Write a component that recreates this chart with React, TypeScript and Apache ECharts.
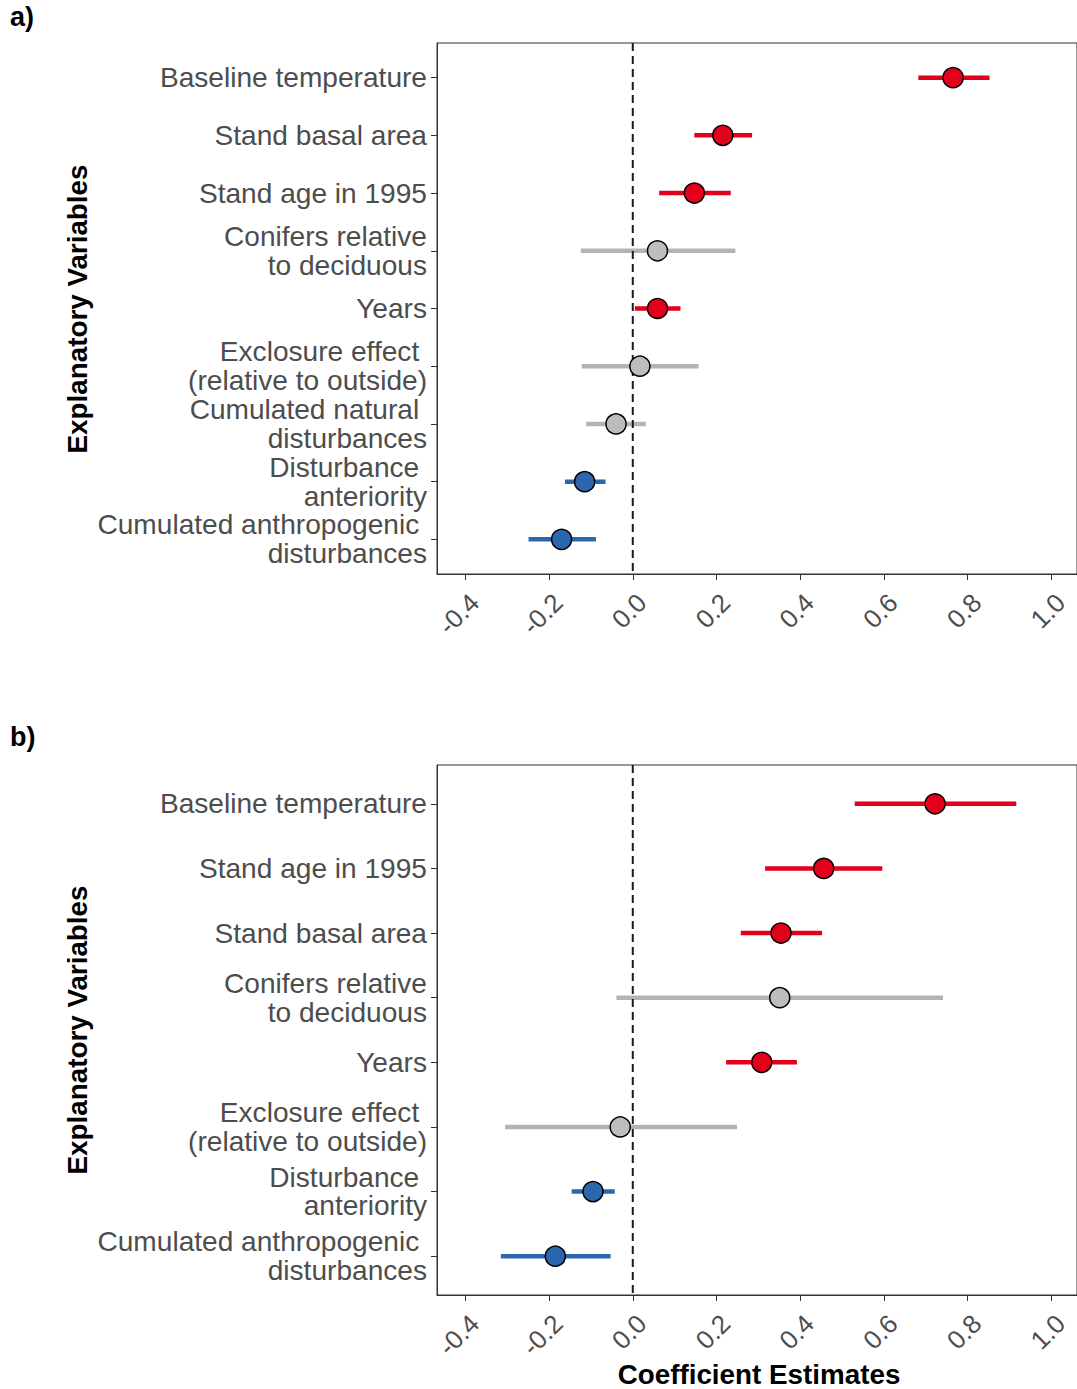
import React, { useEffect, useRef } from "react";
import * as echarts from "echarts";

// ---- Data ----
const categoriesA = [
  "Baseline temperature",
  "Stand basal area",
  "Stand age in 1995",
  "Conifers relative\nto deciduous",
  "Years",
  "Exclosure effect\u00A0\n(relative to outside)",
  "Cumulated natural\u00A0\ndisturbances",
  "Disturbance\u00A0\nanteriority",
  "Cumulated anthropogenic\u00A0\ndisturbances",
];
const estimateA = [0.765, 0.215, 0.147, 0.059, 0.059, 0.017, -0.04, -0.115, -0.17];
const lowerA = [0.682, 0.147, 0.063, -0.124, 0.005, -0.122, -0.111, -0.162, -0.249];
const upperA = [0.852, 0.285, 0.234, 0.245, 0.114, 0.157, 0.031, -0.065, -0.088];

const categoriesB = [
  "Baseline temperature",
  "Stand age in 1995",
  "Stand basal area",
  "Conifers relative\nto deciduous",
  "Years",
  "Exclosure effect\u00A0\n(relative to outside)",
  "Disturbance\u00A0\nanteriority",
  "Cumulated anthropogenic\u00A0\ndisturbances",
];
const estimateB = [0.722, 0.456, 0.354, 0.351, 0.308, -0.03, -0.095, -0.185];
const lowerB = [0.53, 0.316, 0.258, -0.039, 0.223, -0.305, -0.146, -0.315];
const upperB = [0.916, 0.596, 0.452, 0.741, 0.392, 0.249, -0.043, -0.053];

const xTicks = [-0.4, -0.2, 0, 0.2, 0.4, 0.6, 0.8, 1.0];
const X_MIN = -0.4676;
const X_MAX = 1.061;

const panelLabels = ["a)", "b)"];
const yTitle = "Explanatory Variables";
const xTitle = "Coefficient Estimates";

// ---- Styles ----
const FONT = "'Liberation Sans', Arial, Helvetica, sans-serif";
const RED = "#E2001A";
const BLUE = "#2C67AE";
const GREY_BAR = "#B3B3B3";
const GREY_DOT = "#BDBDBD";
const TEXT = "#4D4D4D";
const FRAME = "#333333";

function sigColor(lo: number, hi: number, grey: string) {
  if (lo > 0) return RED;
  if (hi < 0) return BLUE;
  return grey;
}

function buildPanel(
  g: number,
  cats: string[],
  est: number[],
  lo: number[],
  hi: number[]
) {
  const n = cats.length;
  const idx = cats.map((_, i) => i);
  const xAxis = {
    gridIndex: g,
    type: "value",
    min: X_MIN,
    max: X_MAX,
    splitLine: { show: false },
    axisLine: { show: true, onZero: false, lineStyle: { color: FRAME, width: 1 } },
    axisTick: {
      show: true,
      customValues: xTicks,
      length: 6,
      lineStyle: { color: FRAME, width: 1 },
    },
    axisLabel: {
      customValues: xTicks,
      showMinLabel: true,
      showMaxLabel: true,
      hideOverlap: false,
      rotate: 45,
      formatter: (v: number) => v.toFixed(1),
      fontSize: 26,
      color: TEXT,
      fontFamily: FONT,
      margin: 15,
      verticalAlign: "top",
    },
  };
  const yAxis = {
    gridIndex: g,
    type: "value",
    inverse: true,
    min: -0.6,
    max: n - 1 + 0.6,
    splitLine: { show: false },
    axisLine: { show: true, onZero: false, lineStyle: { color: FRAME, width: 1 } },
    axisTick: {
      show: true,
      customValues: idx,
      length: 6,
      lineStyle: { color: FRAME, width: 1 },
    },
    axisLabel: {
      customValues: idx,
      showMinLabel: true,
      showMaxLabel: true,
      hideOverlap: false,
      formatter: (v: number) => cats[Math.round(v)] ?? "",
      fontSize: 28.1,
      lineHeight: 28.8,
      align: "right",
      color: TEXT,
      fontFamily: FONT,
      margin: 10,
    },
  };
  const series = [
    {
      type: "custom",
      xAxisIndex: g,
      yAxisIndex: g,
      silent: true,
      z: 2,
      data: idx.map((i) => [lo[i], i, hi[i]]),
      encode: { x: [0, 2], y: 1 },
      renderItem: (_p: any, api: any) => {
        const l = api.value(0);
        const y = api.value(1);
        const h = api.value(2);
        const a = api.coord([l, y]);
        const b = api.coord([h, y]);
        return {
          type: "line",
          shape: { x1: a[0], y1: a[1], x2: b[0], y2: b[1] },
          style: { stroke: sigColor(l, h, GREY_BAR), lineWidth: 4.5 },
        };
      },
    },
    {
      type: "custom",
      xAxisIndex: g,
      yAxisIndex: g,
      silent: true,
      z: 3,
      data: [[0, 0]],
      encode: { x: 0, y: 1 },
      renderItem: (_p: any, api: any) => {
        const a = api.coord([0, -0.6]);
        const b = api.coord([0, n - 1 + 0.6]);
        return {
          type: "line",
          shape: { x1: a[0], y1: a[1], x2: b[0], y2: b[1] },
          style: { stroke: "#1A1A1A", lineWidth: 2, lineDash: [8, 5] },
        };
      },
    },
    {
      type: "scatter",
      xAxisIndex: g,
      yAxisIndex: g,
      silent: true,
      z: 4,
      symbol: "circle",
      symbolSize: 20,
      data: idx.map((i) => [est[i], i]),
      itemStyle: {
        color: (p: any) => sigColor(lo[p.dataIndex], hi[p.dataIndex], GREY_DOT),
        borderColor: "#000000",
        borderWidth: 1.5,
        opacity: 1,
      },
    },
  ];
  return { xAxis, yAxis, series };
}

export default function App() {
  const ref = useRef<HTMLDivElement>(null);
  useEffect(() => {
    if (!ref.current) return;
    const chart = echarts.init(ref.current, undefined, { renderer: "svg" });
    const pa = buildPanel(0, categoriesA, estimateA, lowerA, upperA);
    const pb = buildPanel(1, categoriesB, estimateB, lowerB, upperB);
    const titleStyle = {
      fontFamily: FONT,
      fontWeight: "bold",
      fontSize: 27.8,
      fill: "#000000",
      textAlign: "center",
      textVerticalAlign: "middle",
    };
    chart.setOption({
      animation: false,
      backgroundColor: "#ffffff",
      textStyle: { fontFamily: FONT },
      grid: [
        {
          left: 437,
          top: 43,
          width: 642,
          height: 531,
          show: true,
          borderColor: FRAME,
          borderWidth: 1,
          backgroundColor: "transparent",
        },
        {
          left: 437,
          top: 765,
          width: 642,
          height: 530,
          show: true,
          borderColor: FRAME,
          borderWidth: 1,
          backgroundColor: "transparent",
        },
      ],
      xAxis: [pa.xAxis, pb.xAxis],
      yAxis: [pa.yAxis, pb.yAxis],
      series: [...pa.series, ...pb.series],
      graphic: [
        {
          type: "text",
          left: 10,
          top: 3,
          style: { text: panelLabels[0], fontFamily: FONT, fontWeight: "bold", fontSize: 27, fill: "#000" },
        },
        {
          type: "text",
          left: 10,
          top: 723,
          style: { text: panelLabels[1], fontFamily: FONT, fontWeight: "bold", fontSize: 27, fill: "#000" },
        },
        {
          type: "text",
          x: 77,
          y: 309,
          rotation: Math.PI / 2,
          style: { ...titleStyle, text: yTitle },
        },
        {
          type: "text",
          x: 77,
          y: 1030,
          rotation: Math.PI / 2,
          style: { ...titleStyle, text: yTitle },
        },
        {
          type: "text",
          x: 759,
          y: 1374,
          style: { ...titleStyle, text: xTitle },
        },
      ],
    });
    return () => chart.dispose();
  }, []);
  return (
    <div
      ref={ref}
      style={{ position: "fixed", left: 0, top: 0, width: 1077, height: 1389 }}
    />
  );
}
